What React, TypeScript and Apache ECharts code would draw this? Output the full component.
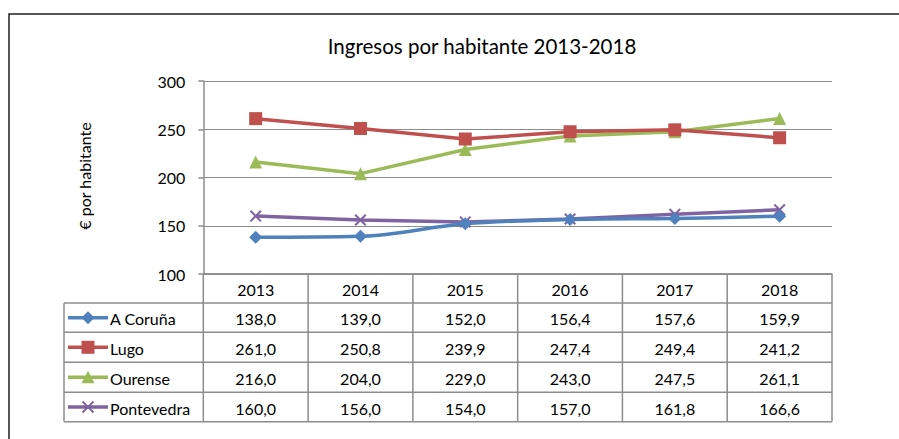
import React, { useEffect, useRef } from "react";
import * as echarts from "echarts";

const years = ["2013", "2014", "2015", "2016", "2017", "2018"];
const seriesNames = ["A Coruña", "Lugo", "Ourense", "Pontevedra"];
const coruna = [138.0, 139.0, 152.0, 156.4, 157.6, 159.9];
const lugo = [261.0, 250.8, 239.9, 247.4, 249.4, 241.2];
const ourense = [216.0, 204.0, 229.0, 243.0, 247.5, 261.1];
const pontevedra = [160.0, 156.0, 154.0, 157.0, 161.8, 166.6];
const yMin = 100;
const yMax = 300;
const yStep = 50;
const titleText = "Ingresos por habitante 2013-2018";
const yAxisName = "€ por habitante";

const colors = ["#4F81BD", "#C0504D", "#9BBB59", "#8064A2"];
const FONT = "Lato";
const XPATH = "path://M0,1.2L1.2,0L5,3.8L8.8,0L10,1.2L6.2,5L10,8.8L8.8,10L5,6.2L1.2,10L0,8.8L3.8,5Z";

const W = 899;
const H = 439;
const GL = 203.3;
const GR = 832;
const GT = 81;
const GB = 274;
const TL = 64;
const rowTops = [274, 303, 332.3, 362.3, 392.3, 421.7];
const GRID_COLOR = "#8c8c8c";

const fmt = (v: number) => v.toFixed(1).replace(".", ",");

export default function App() {
  const ref = useRef<HTMLDivElement>(null);
  useEffect(() => {
    if (!ref.current) return;
    const chart = echarts.init(ref.current, null, { renderer: "svg" });
    const allData = [coruna, lugo, ourense, pontevedra];
    const symbols = ["diamond", "rect", "triangle", XPATH];
    const symbolSizes = [13, 13, 13, 12];
    const colW = (GR - GL) / years.length;

    const graphic: any[] = [];
    graphic.push({
      type: "rect",
      shape: { x: 9, y: 14, width: 1200, height: 1200 },
      style: { fill: "none", stroke: "#222", lineWidth: 1.5 },
      silent: true,
    });
    graphic.push({
      type: "text",
      x: 482,
      y: 46,
      style: {
        text: titleText,
        fontFamily: FONT,
        fontSize: 20.5,
        fill: "#000",
        align: "center",
        verticalAlign: "middle",
      },
    });
    graphic.push({
      type: "text",
      x: 84,
      y: 176,
      rotation: Math.PI / 2,
      style: {
        text: yAxisName,
        fontFamily: FONT,
        fontSize: 16,
        fill: "#000",
        align: "center",
        verticalAlign: "middle",
      },
    });
    const line = (x1: number, y1: number, x2: number, y2: number) => ({
      type: "line",
      shape: { x1, y1, x2, y2 },
      style: { stroke: GRID_COLOR, lineWidth: 1.5 },
      silent: true,
    });
    const lastY = rowTops[rowTops.length - 1];
    rowTops.forEach((y, i) => {
      graphic.push(line(i === 0 ? GL : TL, y, GR, y));
    });
    graphic.push(line(TL, rowTops[1], TL, lastY));
    for (let i = 0; i <= years.length; i++) {
      const x = GL + i * colW;
      graphic.push(line(x, rowTops[0], x, lastY));
    }
    years.forEach((yr, i) => {
      graphic.push({
        type: "text",
        x: GL + (i + 0.5) * colW,
        y: (rowTops[0] + rowTops[1]) / 2 + 1,
        style: { text: yr, fontFamily: FONT, fontSize: 16, fill: "#000", align: "center", verticalAlign: "middle" },
      });
    });
    seriesNames.forEach((name, r) => {
      const yc = (rowTops[r + 1] + rowTops[r + 2]) / 2 + 1;
      const c = colors[r];
      graphic.push({
        type: "line",
        shape: { x1: 68, y1: yc - 1, x2: 108, y2: yc - 1 },
        style: { stroke: c, lineWidth: 3.5 },
      });
      const mx = 88;
      const my = yc - 1;
      if (r === 0) {
        graphic.push({ type: "polygon", shape: { points: [[mx, my - 6.5], [mx + 6.5, my], [mx, my + 6.5], [mx - 6.5, my]] }, style: { fill: c } });
      } else if (r === 1) {
        graphic.push({ type: "rect", shape: { x: mx - 6.5, y: my - 6.5, width: 13, height: 13 }, style: { fill: c } });
      } else if (r === 2) {
        graphic.push({ type: "polygon", shape: { points: [[mx, my - 6.5], [mx + 6.5, my + 6], [mx - 6.5, my + 6]] }, style: { fill: c } });
      } else {
        graphic.push({ type: "line", shape: { x1: mx - 5.5, y1: my - 5.5, x2: mx + 5.5, y2: my + 5.5 }, style: { stroke: c, lineWidth: 1.8 } });
        graphic.push({ type: "line", shape: { x1: mx - 5.5, y1: my + 5.5, x2: mx + 5.5, y2: my - 5.5 }, style: { stroke: c, lineWidth: 1.8 } });
      }
      graphic.push({
        type: "text",
        x: 110,
        y: yc,
        style: { text: name, fontFamily: FONT, fontSize: 16, fill: "#000", align: "left", verticalAlign: "middle" },
      });
      allData[r].forEach((v, i) => {
        graphic.push({
          type: "text",
          x: GL + (i + 0.5) * colW,
          y: yc,
          style: { text: fmt(v), fontFamily: FONT, fontSize: 16, fill: "#000", align: "center", verticalAlign: "middle" },
        });
      });
    });

    chart.setOption({
      animation: false,
      backgroundColor: "#fff",
      grid: { left: GL, top: GT, width: GR - GL, height: GB - GT, containLabel: false },
      xAxis: {
        type: "category",
        data: years,
        boundaryGap: true,
        axisLabel: { show: false },
        axisTick: { show: false },
        axisLine: { show: true, lineStyle: { color: GRID_COLOR, width: 1.5 } },
        splitLine: { show: false },
      },
      yAxis: {
        type: "value",
        min: yMin,
        max: yMax,
        interval: yStep,
        axisLine: { show: true, lineStyle: { color: GRID_COLOR, width: 1.5 } },
        axisTick: { show: true, length: 5, lineStyle: { color: GRID_COLOR, width: 1.5 } },
        axisLabel: { fontFamily: FONT, fontSize: 16, color: "#000", margin: 18 },
        splitLine: { show: true, lineStyle: { color: GRID_COLOR, width: 1.2 } },
      },
      series: seriesNames.map((name, i) => ({
        name,
        type: "line",
        data: allData[i],
        smooth: i === 0 ? 0.35 : false,
        symbol: symbols[i],
        symbolSize: symbolSizes[i],
        lineStyle: { color: colors[i], width: 3.5 },
        itemStyle: { color: colors[i] },
        z: 10 - i,
      })),
      graphic,
    });
    return () => chart.dispose();
  }, []);
  return (
    <div
      ref={ref}
      style={{ position: "absolute", left: 0, top: 0, width: W, height: H }}
    />
  );
}
